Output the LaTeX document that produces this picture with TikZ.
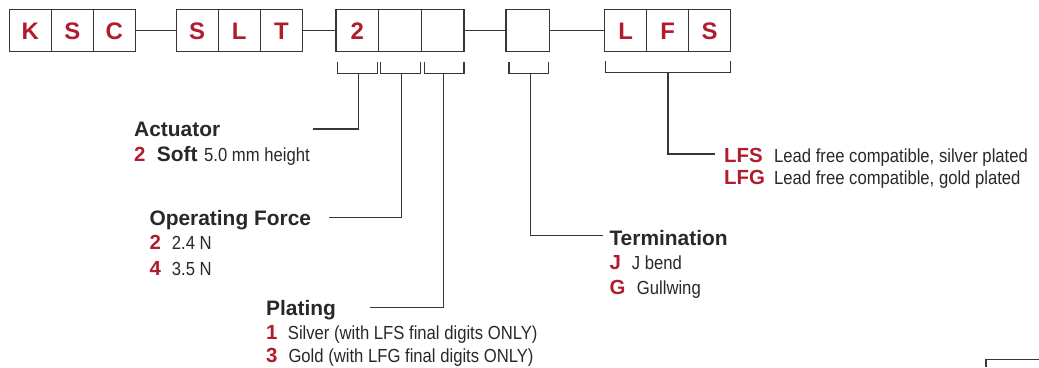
\documentclass[tikz,border=0pt]{standalone}
\usepackage{fontspec}
\setmainfont{Liberation Sans}
\newfontfamily\narrowfont[FakeStretch=0.88]{Liberation Sans}
\definecolor{kred}{RGB}{176,27,46}
\definecolor{kline}{RGB}{55,55,55}
\definecolor{ktext}{RGB}{40,40,40}
\begin{document}
\begin{tikzpicture}[x=1bp,y=-1bp,
 cell/.style={draw=kline,line width=1.2bp,fill=white,minimum width=42bp,minimum height=42.4bp,inner sep=0pt,
   font=\fontsize{24}{24}\selectfont\bfseries,text=kred,text height=17.3bp,text depth=0pt},
 wire/.style={draw=kline,line width=1.1bp},
 head/.style={anchor=base west,inner sep=0pt,font=\fontsize{21}{21}\selectfont\bfseries,text=ktext},
 code/.style={anchor=base west,inner sep=0pt,font=\fontsize{20.5}{20.5}\selectfont\bfseries,text=kred},
 desc/.style={anchor=base west,inner sep=0pt,font=\fontsize{19}{19}\narrowfont,text=ktext},
]
\useasboundingbox (0,0) rectangle (1039,367);

% code boxes
\node[cell] (k)  at (30.3,30.5) {K};
\node[cell] (s)  at (72.3,30.5) {S};
\node[cell] (c)  at (114.3,30.5) {C};
\node[cell] (s2) at (197.1,30.5) {S};
\node[cell] (l)  at (239.2,30.5) {L};
\node[cell] (t)  at (281.3,30.5) {T};
\node[cell,minimum width=42.6bp] (d1) at (357.3,30.5) {2};
\node[cell,minimum width=42.6bp] (d2) at (400,30.5) {};
\node[cell,minimum width=42.6bp] (d3) at (442.7,30.5) {};
\node[cell,minimum width=43.3bp] (d4) at (527.7,30.5) {};
\node[cell] (f1) at (625.7,30.5) {L};
\node[cell] (f2) at (667.7,30.5) {F};
\node[cell] (f3) at (709.7,30.5) {S};

\draw[wire] (c.east) -- (s2.west);
\draw[wire] (t.east) -- (d1.west);
\draw[wire] (d3.east) -- (d4.west);
\draw[wire] (d4.east) -- (f1.west);

% brackets
\draw[wire] (337.7,62) -- (337.7,73.7) -- (377.7,73.7) -- (377.7,62);
\draw[wire] (380.7,62) -- (380.7,73.7) -- (420.7,73.7) -- (420.7,62);
\draw[wire] (424.3,62) -- (424.3,73.7) -- (464,73.7) -- (464,62);
\draw[wire] (509,62) -- (509,73.7) -- (548.7,73.7) -- (548.7,62);
\draw[wire] (605.3,61.3) -- (605.3,72.3) -- (730.3,72.3) -- (730.3,61.3);

\coordinate (b1) at (358.7,73.7);
\coordinate (b2) at (401.3,73.7);
\coordinate (b3) at (443.3,73.7);
\coordinate (b4) at (530.7,73.7);
\coordinate (b5) at (668,72.3);
\coordinate (e1) at (313.3,129);
\coordinate (e2) at (329.3,217.7);
\coordinate (e3) at (370,307.7);
\coordinate (e4) at (603,235.7);
\coordinate (e5) at (715,154);
\draw[wire] (b1) |- (e1);
\draw[wire] (b2) |- (e2);
\draw[wire] (b3) |- (e3);
\draw[wire] (b4) |- (e4);
\draw[wire] (b5) |- (e5);

% labels
\node[head] (act) at (134,136.7) {Actuator};
\node[code] (act2) at (134,161.7) {2};
\node[head] (soft) at (156.7,161.7) {Soft};
\node[desc] (acth) at (204,161.7) {5.0 mm height};

\node[head] (opf) at (149.3,225) {Operating Force};
\node[code] (opf2) at (149.3,249.3) {2};
\node[desc] (opf2t) at (171.7,249.3) {2.4 N};
\node[code] (opf4) at (149.3,275) {4};
\node[desc] (opf4t) at (171.7,275) {3.5 N};

\node[head] (pl) at (266,315) {Plating};
\node[code] (pl1) at (266,339.3) {1};
\node[desc] (pl1t) at (287.7,339.3) {Silver (with LFS final digits ONLY)};
\node[code] (pl3) at (266,362.7) {3};
\node[desc] (pl3t) at (288.3,362.7) {Gold (with LFG final digits ONLY)};

\node[head] (term) at (609.3,245) {Termination};
\node[code] (tj) at (609.3,269.3) {J};
\node[desc] (tjt) at (631.7,269.3) {J bend};
\node[code] (tg) at (609.3,294) {G};
\node[desc] (tgt) at (636.7,294) {Gullwing};

\node[code] (lfs) at (724,162.3) {LFS};
\node[desc] (lfst) at (774,162.3) {Lead free compatible, silver plated};
\node[code] (lfg) at (724,184) {LFG};
\node[desc] (lfgt) at (774,184) {Lead free compatible, gold plated};

% fragment at lower right
\draw[kline,line width=1.5bp] (986,367) -- (986,359.3) -- (1039,359.3);
\end{tikzpicture}
\end{document}
